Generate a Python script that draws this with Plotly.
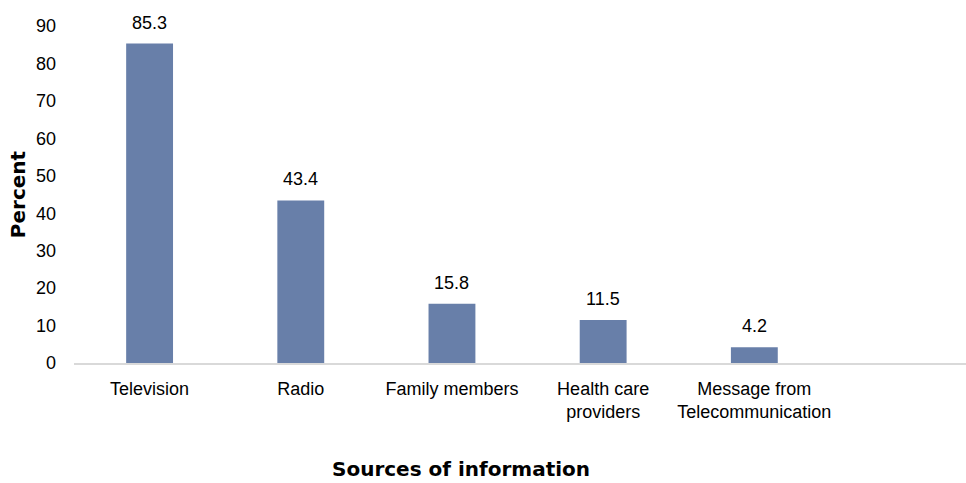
import plotly.graph_objects as go

categories = ["Television", "Radio", "Family members", "Health care<br>providers",
              "Message from<br>Telecommunication", " "]
values = [85.3, 43.4, 15.8, 11.5, 4.2, None]
labels = ["85.3", "43.4", "15.8", "11.5", "4.2", ""]
y_ticks = [0, 10, 20, 30, 40, 50, 60, 70, 80, 90]

BAR = "#687FA9"
FONT = "Liberation Sans"
FS = 18

fig = go.Figure()
fig.add_trace(go.Bar(
    x=categories, y=values, marker=dict(color=BAR, line=dict(width=0)),
    width=0.31, showlegend=False, hoverinfo="skip",
))
for c, v, t in zip(categories, values, labels):
    if v is None:
        continue
    fig.add_annotation(x=c, y=v, text=t, showarrow=False, yanchor="bottom", yshift=9,
                       font=dict(family=FONT, size=FS, color="#000000"))

fig.add_annotation(text="Sources of information", xref="paper", yref="paper",
                   x=0.4344, y=-0.314, yanchor="middle", xanchor="center", showarrow=False,
                   font=dict(family="DejaVu Sans", size=20, color="#000000", weight="bold"))

fig.update_layout(
    width=966, height=483,
    margin=dict(l=74, r=0, t=26, b=120),
    plot_bgcolor="white", paper_bgcolor="white",
    font=dict(family=FONT, size=FS, color="#000000"),
    bargap=0.69,
)
fig.update_xaxes(
    range=[-0.5, 5.4], showgrid=False, showline=True, linecolor="#D9D9D9", linewidth=2,
    ticks="", tickfont=dict(family=FONT, size=FS, color="#000000"), ticklabelstandoff=8,
    fixedrange=True,
)
fig.update_yaxes(
    range=[0, 90], tickvals=y_ticks, showgrid=False, showline=False, zeroline=False,
    ticks="", tickfont=dict(family=FONT, size=FS, color="#000000"), ticklabelstandoff=17,
    title=dict(text="Percent", font=dict(family="DejaVu Sans", size=20, color="#000000", weight="bold"),
               standoff=4),
    fixedrange=True,
)

fig.write_html("out.html", config={"displayModeBar": False},
               post_script="document.body.style.margin='0';document.body.style.overflow='hidden';")
